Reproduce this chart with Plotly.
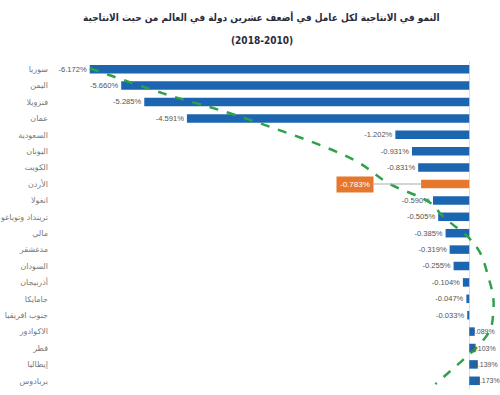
import plotly.graph_objects as go

countries = ["سوريا", "اليمن", "فنزويلا", "عمان", "السعودية", "اليونان", "الكويت", "الأردن",
             "انغولا", "ترينداد وتوباغو", "مالي", "مدغشقر", "السودان", "أذربيجان", "جامايكا",
             "جنوب افريقيا", "الاكوادور", "قطر", "إيطاليا", "بربادوس"]
values = [-6.172, -5.660, -5.285, -4.591, -1.202, -0.931, -0.831, -0.783,
          -0.590, -0.505, -0.385, -0.319, -0.255, -0.104, -0.047, -0.033,
          0.089, 0.103, 0.139, 0.173]
highlight = "الأردن"

# decorative dashed trend curve (x in %, y in row index)
trend_x = [-6.17, -4.99, -3.70, -1.87, -1.32, -0.63, -0.42, -0.02, 0.18, 0.31, 0.39, 0.39, 0.34, 0.13, -0.10, -0.55]
trend_y = [-0.06, 1.46, 2.92, 5.54, 6.94, 8.16, 9.01, 10.23, 11.21, 12.67, 13.89, 14.86, 15.90, 16.93, 17.72, 19.20]

title_line1 = "النمو في الانتاجية لكل عامل في أضعف عشرين دولة في العالم من حيث الانتاجية"
title_line2 = "(2018-2010)"

BLUE = "#1c66b1"
ORANGE = "#e8772e"
LABEL_FONT = dict(family="Liberation Sans", size=8, color="#555555")

ypos = list(range(len(countries)))
colors = [ORANGE if c == highlight else BLUE for c in countries]
texts = ["" if (c == highlight or v > 0) else f"{v:.3f}%" for c, v in zip(countries, values)]

fig = go.Figure()
fig.add_trace(go.Bar(
    x=values, y=ypos, orientation="h",
    marker=dict(color=colors, line=dict(width=0)),
    width=0.52,
    text=texts, textposition="outside", cliponaxis=False,
    textfont=LABEL_FONT,
    showlegend=False, hoverinfo="skip",
))
fig.add_trace(go.Scatter(
    x=trend_x, y=trend_y, mode="lines",
    line=dict(color="#2fa14a", width=2.5, dash="dash", shape="spline", smoothing=1.0),
    showlegend=False, hoverinfo="skip",
))

# labels for positive bars, tucked right against the bar end
for i, v in enumerate(values):
    if v > 0:
        fig.add_annotation(x=v, y=i, xref="x", yref="y", xanchor="left", xshift=-6,
                           text=f"{v:.3f}%", showarrow=False,
                           font=dict(family="Liberation Sans", size=7, color="#555555"))

hi = countries.index(highlight)
fig.add_annotation(
    x=values[hi], y=hi, xref="x", yref="y",
    text=f"{values[hi]:.3f}%", showarrow=True, arrowhead=0, arrowwidth=1,
    arrowcolor="#aaaaaa", ax=-66, ay=0, standoff=0,
    bgcolor=ORANGE, borderpad=3,
    font=dict(family="Liberation Sans", size=8, color="white"),
)

fig.add_annotation(x=0.467, y=1.0, xref="paper", yref="paper", yanchor="bottom",
                   yshift=35, text=f"<b>{title_line1}</b>", showarrow=False,
                   font=dict(family="DejaVu Sans Condensed, DejaVu Sans", size=10, color="#2b2b3d"))
fig.add_annotation(x=0.467, y=1.0, xref="paper", yref="paper", yanchor="bottom",
                   yshift=13, text=f"<b>{title_line2}</b>", showarrow=False,
                   font=dict(family="DejaVu Sans Condensed, DejaVu Sans", size=10, color="#2b2b3d"))

L = 50
xmin = -(469 - L) / 61.9
xmax = 0.5

fig.update_layout(
    width=500, height=395,
    margin=dict(l=L, r=0, t=61, b=6),
    paper_bgcolor="white", plot_bgcolor="white",
    xaxis=dict(range=[xmin, xmax], showticklabels=False, showgrid=False,
               zeroline=True, zerolinecolor="#dddddd", zerolinewidth=1, fixedrange=True),
    yaxis=dict(range=[19.5, -0.5], tickmode="array", tickvals=ypos, ticktext=countries,
               showgrid=False, zeroline=False, ticks="", ticklabelstandoff=4, fixedrange=True,
               tickfont=dict(family="DejaVu Sans", size=8, color="#777777")),
)

fig.write_html("out.html", config={"displayModeBar": False},
               post_script="document.body.style.margin='0';")
